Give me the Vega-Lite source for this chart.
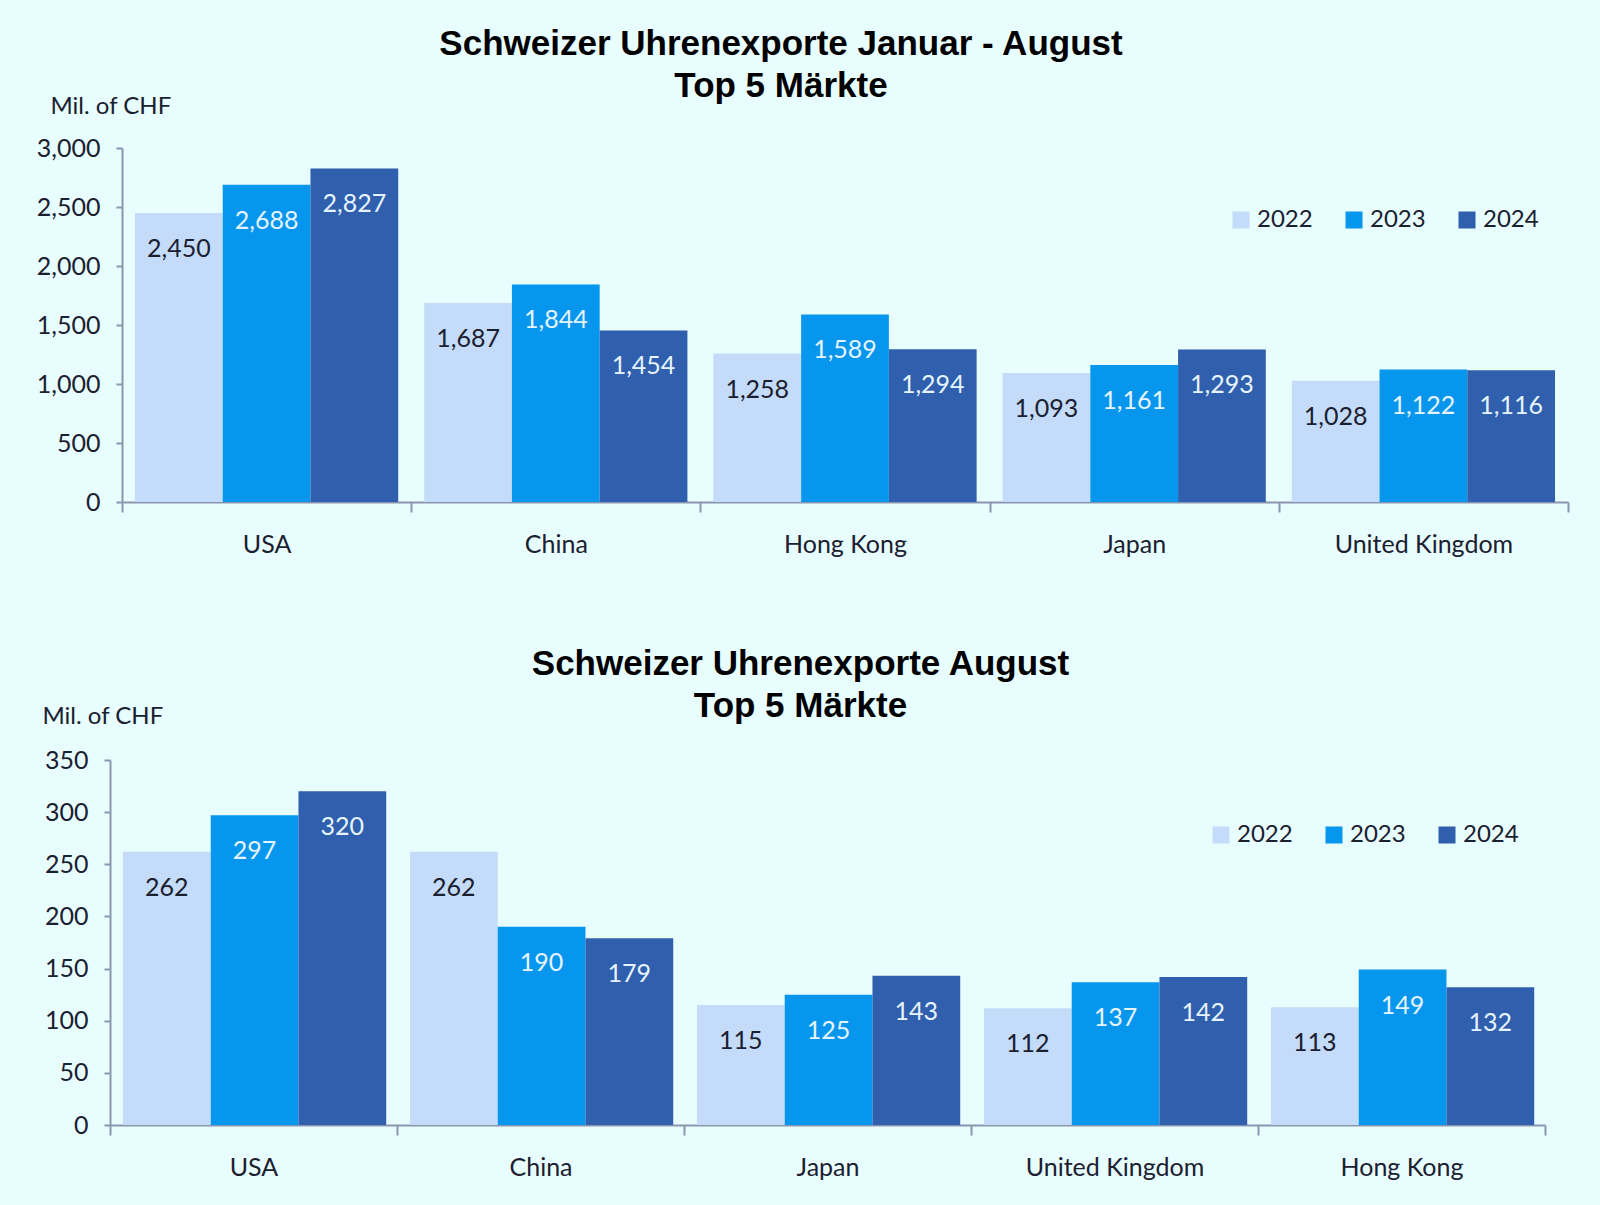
{
  "$schema": "https://vega.github.io/schema/vega-lite/v6.json",
  "background": "#e8fdfd",
  "padding": {"left": 36, "top": 27, "right": 36, "bottom": 32},
  "datasets": {
    "ytd": [
      {"market": "USA", "year": "2022", "value": 2450},
      {"market": "USA", "year": "2023", "value": 2688},
      {"market": "USA", "year": "2024", "value": 2827},
      {"market": "China", "year": "2022", "value": 1687},
      {"market": "China", "year": "2023", "value": 1844},
      {"market": "China", "year": "2024", "value": 1454},
      {"market": "Hong Kong", "year": "2022", "value": 1258},
      {"market": "Hong Kong", "year": "2023", "value": 1589},
      {"market": "Hong Kong", "year": "2024", "value": 1294},
      {"market": "Japan", "year": "2022", "value": 1093},
      {"market": "Japan", "year": "2023", "value": 1161},
      {"market": "Japan", "year": "2024", "value": 1293},
      {"market": "United Kingdom", "year": "2022", "value": 1028},
      {"market": "United Kingdom", "year": "2023", "value": 1122},
      {"market": "United Kingdom", "year": "2024", "value": 1116}
    ],
    "aug": [
      {"market": "USA", "year": "2022", "value": 262},
      {"market": "USA", "year": "2023", "value": 297},
      {"market": "USA", "year": "2024", "value": 320},
      {"market": "China", "year": "2022", "value": 262},
      {"market": "China", "year": "2023", "value": 190},
      {"market": "China", "year": "2024", "value": 179},
      {"market": "Japan", "year": "2022", "value": 115},
      {"market": "Japan", "year": "2023", "value": 125},
      {"market": "Japan", "year": "2024", "value": 143},
      {"market": "United Kingdom", "year": "2022", "value": 112},
      {"market": "United Kingdom", "year": "2023", "value": 137},
      {"market": "United Kingdom", "year": "2024", "value": 142},
      {"market": "Hong Kong", "year": "2022", "value": 113},
      {"market": "Hong Kong", "year": "2023", "value": 149},
      {"market": "Hong Kong", "year": "2024", "value": 132}
    ]
  },
  "config": {
    "view": {"stroke": null},
    "font": "Lato",
    "axis": {
      "domainColor": "#8a96b0", "domainWidth": 2,
      "tickColor": "#8a96b0", "tickWidth": 2,
      "labelColor": "#1b2030", "labelFont": "Lato", "labelFontSize": 25,
      "titleColor": "#1b2030", "titleFont": "Lato", "titleFontSize": 24, "titleFontWeight": "normal",
      "grid": false
    },
    "legend": {
      "orient": "none", "direction": "horizontal", "title": null,
      "symbolType": "square", "symbolSize": 289, "symbolStrokeWidth": 0,
      "labelFont": "Lato", "labelFontSize": 24, "labelColor": "#1b2030",
      "columnPadding": 29, "labelOffset": 4, "padding": 0
    },
    "title": {"font": "Liberation Sans", "fontSize": 35, "fontWeight": "bold", "color": "#000000", "anchor": "middle", "lineHeight": 42}
  },
  "spacing": 90,
  "resolve": {"legend": {"color": "independent"}},
  "vconcat": [
    {
      "width": 1458, "height": 354,
      "title": {"text": ["Schweizer Uhrenexporte Januar - August", "Top 5 Märkte"], "dx": -58, "offset": -10},
      "data": {"name": "ytd"},
      "encoding": {
        "x": {"field": "market", "type": "nominal", "sort": null, "title": null,
          "scale": {"range": [12, 1458], "paddingInner": 0, "paddingOuter": 0},
          "axis": {"labelAngle": 0, "tickBand": "extent", "tickSize": 10, "labelPadding": 20}},
        "xOffset": {"field": "year", "type": "nominal", "scale": {"paddingInner": 0, "paddingOuter": 0.148}},
        "y": {"field": "value", "type": "quantitative", "scale": {"domain": [0, 3000], "nice": false},
          "axis": {"offset": -12, "values": [0, 500, 1000, 1500, 2000, 2500, 3000], "format": ",.0f", "tickSize": 6, "labelPadding": 16,
            "title": "Mil. of CHF", "titleAngle": 0, "titleX": -72, "titleY": -42, "titleAlign": "left", "titleBaseline": "middle"}}
      },
      "layer": [
        {"mark": {"type": "bar"},
         "encoding": {"color": {"field": "year", "type": "nominal",
           "scale": {"domain": ["2022", "2023", "2024"], "range": ["#c4dcfa", "#0796ee", "#2f5fad"]},
           "legend": {"legendX": 1119, "legendY": 60}}}},
        {"mark": {"type": "text", "baseline": "middle", "align": "center", "dy": 36, "fontSize": 25, "font": "Lato"},
         "encoding": {"text": {"field": "value", "type": "quantitative", "format": ",.0f"},
           "fill": {"condition": {"test": "datum.year == '2022'", "value": "#1b2030"}, "value": "#e6f4ff"}}}
      ]
    },
    {
      "width": 1435, "height": 365,
      "title": {"text": ["Schweizer Uhrenexporte August", "Top 5 Märkte"], "dx": -27, "offset": -20},
      "data": {"name": "aug"},
      "encoding": {
        "x": {"field": "market", "type": "nominal", "sort": null, "title": null,
          "scale": {"paddingInner": 0, "paddingOuter": 0},
          "axis": {"labelAngle": 0, "tickBand": "extent", "tickSize": 10, "labelPadding": 20}},
        "xOffset": {"field": "year", "type": "nominal", "scale": {"paddingInner": 0, "paddingOuter": 0.148}},
        "y": {"field": "value", "type": "quantitative", "scale": {"domain": [0, 350], "nice": false},
          "axis": {"values": [0, 50, 100, 150, 200, 250, 300, 350], "format": ",.0f", "tickSize": 6, "labelPadding": 16,
            "title": "Mil. of CHF", "titleAngle": 0, "titleX": -68, "titleY": -44, "titleAlign": "left", "titleBaseline": "middle"}}
      },
      "layer": [
        {"mark": {"type": "bar"},
         "encoding": {"color": {"field": "year", "type": "nominal",
           "scale": {"domain": ["2022", "2023", "2024"], "range": ["#c4dcfa", "#0796ee", "#2f5fad"]},
           "legend": {"legendX": 1099, "legendY": 63}}}},
        {"mark": {"type": "text", "baseline": "middle", "align": "center", "dy": 36, "fontSize": 25, "font": "Lato"},
         "encoding": {"text": {"field": "value", "type": "quantitative", "format": ",.0f"},
           "fill": {"condition": {"test": "datum.year == '2022'", "value": "#1b2030"}, "value": "#e6f4ff"}}}
      ]
    }
  ]
}
